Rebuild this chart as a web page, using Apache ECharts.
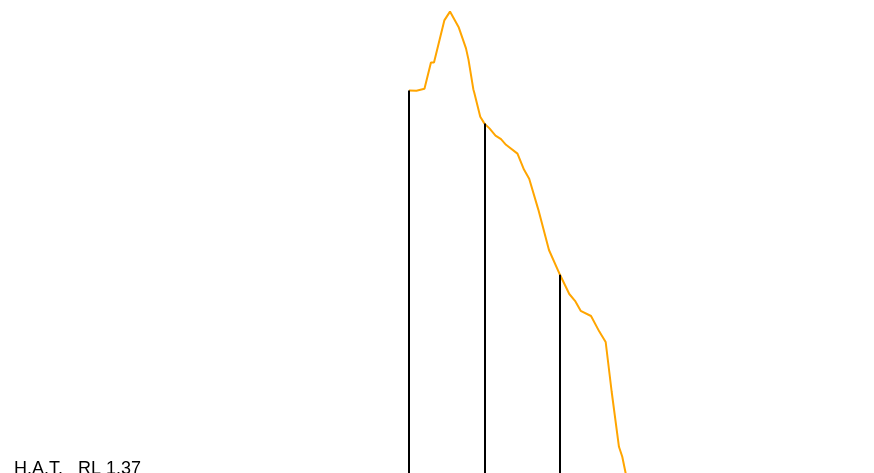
<!DOCTYPE html>
<html>
<head>
<meta charset="utf-8">
<title>Beach profile</title>
<script src="https://cdn.jsdelivr.net/npm/echarts@6/dist/echarts.min.js"></script>
<style>
  html, body { margin: 0; padding: 0; background: #fff; overflow: hidden; }
  /* taller than the window: the H.A.T. line sits just below the visible area */
  #chart { width: 874px; height: 520px; }
</style>
</head>
<body>
<div id="chart"></div>
<script>
// profile: chainage (m) and reduced level (m)
const chainage = [0.00, 0.99, 2.05, 2.91, 3.31, 4.68, 5.43, 6.60, 7.55, 7.88,
  8.52, 8.65, 9.44, 10.00, 10.66, 11.46, 12.19, 12.85, 14.37, 15.23,
  15.92, 17.13, 18.54, 20.00, 21.23, 21.99, 22.74, 24.11, 25.21, 26.05,
  26.85, 27.81, 28.25, 28.74, 29.14];
const level = [11.11, 11.10, 11.15, 11.81, 11.81, 12.86, 13.08, 12.68, 12.16, 11.88,
  11.14, 11.05, 10.45, 10.28, 10.16, 9.98, 9.89, 9.75, 9.53, 9.13,
  8.90, 8.13, 7.12, 6.50, 6.02, 5.85, 5.60, 5.47, 5.08, 4.82,
  3.57, 2.20, 1.95, 1.50, 1.12];

// survey stations (vertical drop lines)
const stationChainage = [0, 10, 20];
const stationLevel = [11.11, 10.28, 6.50];

// highest astronomical tide
const hatLevel = 1.37;

const chart = echarts.init(document.getElementById('chart'));

const profileData = chainage.map((c, i) => [c, level[i]]);
const dropLines = stationChainage.map((c, i) => [
  { coord: [c, stationLevel[i]] },
  { coord: [c, hatLevel] }
]);

const option = {
  animation: false,
  grid: {
    left: 0,
    right: 0,
    top: 0,
    bottom: 0
  },
  xAxis: {
    type: 'value',
    min: -54.17,
    max: 61.59,
    show: false,
    splitLine: { show: false }
  },
  yAxis: {
    type: 'value',
    min: 0.37,
    max: 13.37,
    show: false,
    splitLine: { show: false }
  },
  series: [
    {
      name: 'stations',
      type: 'line',
      data: [],
      markLine: {
        silent: true,
        symbol: 'none',
        lineStyle: { color: '#000', width: 2, type: 'solid' },
        label: { show: false },
        data: dropLines
      }
    },
    {
      name: 'profile',
      type: 'line',
      data: profileData,
      showSymbol: false,
      lineStyle: { color: '#FFA500', width: 2 },
      itemStyle: { color: '#FFA500' },
      markLine: {
        silent: true,
        symbol: 'none',
        lineStyle: { color: '#000', width: 1, type: 'solid' },
        label: {
          show: true,
          position: 'insideStartTop',
          distance: [14, 2],
          color: '#000',
          fontFamily: 'Liberation Sans, Arial, sans-serif',
          fontSize: 18,
          formatter: 'H.A.T.   RL ' + hatLevel
        },
        data: [{ yAxis: hatLevel }]
      }
    }
  ]
};

chart.setOption(option);
window.addEventListener('resize', () => chart.resize());
</script>
</body>
</html>
